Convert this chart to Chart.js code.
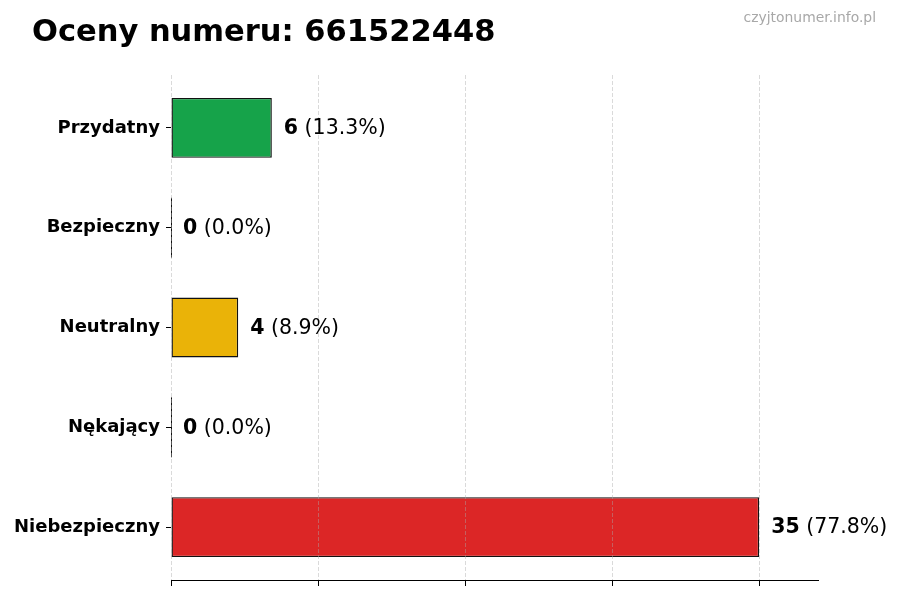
<!DOCTYPE html>
<html lang="pl">
<head>
    <meta charset="UTF-8">
    <title>Oceny numeru</title>
    <script src="https://cdn.jsdelivr.net/npm/chart.js"></script>
    <style>
        body { margin: 0; background: #fff; }
        .chart-box { width: 900px; height: 600px; }
    </style>
</head>
<body>
    <div class="chart-box">
        <canvas id="ratingsChart"></canvas>
    </div>

    <script>
        const categories = ['Przydatny', 'Bezpieczny', 'Neutralny', 'Nękający', 'Niebezpieczny'];
        const counts = [6, 0, 4, 0, 35];
        const barColors = ['#16a34a', '#9ca3af', '#eab308', '#f97316', '#dc2626'];
        const xTicks = [0, 8.75, 17.5, 26.25, 35];
        const xMax = 38.5;

        const total = counts.reduce((a, b) => a + b, 0);
        const FONT = '"DejaVu Sans", sans-serif';

        // title + watermark, dashed grid on top of bars, value labels
        const decorPlugin = {
            id: 'decor',
            afterDraw(chart) {
                const ctx = chart.ctx;
                ctx.save();
                ctx.textBaseline = 'alphabetic';
                ctx.fillStyle = '#000';
                ctx.font = 'bold 30.5px ' + FONT;
                ctx.textAlign = 'left';
                ctx.fillText('Oceny numeru: 661522448', 32, 41);

                ctx.fillStyle = '#a8a8a8';
                ctx.font = '13.9px ' + FONT;
                ctx.textAlign = 'right';
                ctx.fillText('czyjtonumer.info.pl', 876, 22);
                ctx.restore();
            },
            afterDatasetsDraw(chart) {
                const ctx = chart.ctx;
                const area = chart.chartArea;
                const xScale = chart.scales.x;
                const meta = chart.getDatasetMeta(0);

                ctx.save();
                // zero-width bars still show their edge
                ctx.strokeStyle = '#111';
                ctx.lineWidth = 1;
                meta.data.forEach((bar, i) => {
                    if (counts[i] === 0) {
                        ctx.beginPath();
                        ctx.moveTo(bar.x + 0.5, bar.y - bar.height / 2);
                        ctx.lineTo(bar.x + 0.5, bar.y + bar.height / 2);
                        ctx.stroke();
                    }
                });

                // grid
                ctx.strokeStyle = 'rgba(170,170,170,0.55)';
                ctx.lineWidth = 0.8;
                ctx.setLineDash([4, 2]);
                xScale.ticks.forEach(t => {
                    const px = Math.round(xScale.getPixelForValue(t.value)) + 0.5;
                    ctx.beginPath();
                    ctx.moveTo(px, area.top);
                    ctx.lineTo(px, area.bottom);
                    ctx.stroke();
                });
                ctx.setLineDash([]);

                // labels
                ctx.textBaseline = 'middle';
                ctx.textAlign = 'left';
                ctx.fillStyle = '#000';
                meta.data.forEach((bar, i) => {
                    const num = String(counts[i]);
                    const pct = ' (' + (counts[i] / total * 100).toFixed(1) + '%)';
                    let x = bar.x + 12;
                    const y = bar.y + 1;
                    ctx.font = 'bold 20.5px ' + FONT;
                    ctx.fillText(num, x, y);
                    x += ctx.measureText(num).width;
                    ctx.font = '20.5px ' + FONT;
                    ctx.fillText(pct, x, y);
                });
                ctx.restore();
            }
        };

        const points = counts.map((v, i) => ({ x: v, y: i }));

        new Chart(document.getElementById('ratingsChart'), {
            type: 'bar',
            data: {
                datasets: [{
                    data: points,
                    backgroundColor: barColors,
                    borderColor: '#111',
                    borderWidth: 1.4,
                    borderSkipped: false,
                    barPercentage: 0.6,
                    categoryPercentage: 1
                }]
            },
            options: {
                indexAxis: 'y',
                responsive: true,
                maintainAspectRatio: false,
                animation: false,
                layout: { padding: { top: 75, right: 82, bottom: 0, left: 0 } },
                plugins: {
                    legend: { display: false },
                    tooltip: { enabled: false }
                },
                scales: {
                    x: {
                        type: 'linear',
                        min: 0,
                        max: xMax,
                        afterBuildTicks: scale => {
                            scale.ticks = xTicks.map(v => ({ value: v }));
                        },
                        afterFit: scale => { scale.height = 20; },
                        grid: {
                            drawOnChartArea: false,
                            drawTicks: true,
                            tickLength: 6,
                            tickColor: '#000',
                            tickWidth: 1
                        },
                        border: { display: true, color: '#000', width: 1 },
                        ticks: { display: false }
                    },
                    y: {
                        type: 'linear',
                        reverse: true,
                        min: -0.53,
                        max: categories.length - 1 + 0.53,
                        offset: false,
                        afterBuildTicks: scale => {
                            scale.ticks = categories.map((c, i) => ({ value: i }));
                        },
                        afterFit: scale => { scale.width = 171; },
                        grid: {
                            offset: false,
                            drawOnChartArea: false,
                            drawTicks: true,
                            tickLength: 5,
                            tickColor: '#000',
                            tickWidth: 1
                        },
                        border: { display: false },
                        ticks: {
                            color: '#000',
                            padding: 6,
                            font: { family: FONT, size: 18, weight: 'bold' },
                            callback: v => categories[v]
                        }
                    }
                }
            },
            plugins: [decorPlugin]
        });
    </script>
</body>
</html>
